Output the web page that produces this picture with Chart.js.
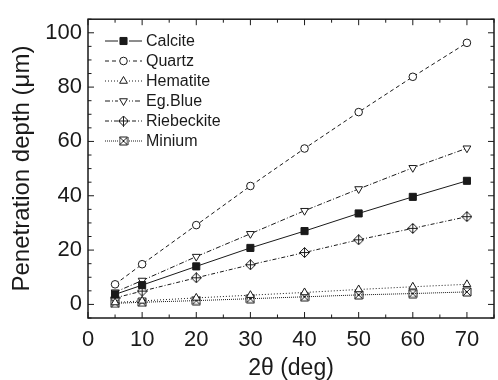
<!DOCTYPE html>
<html>
<head>
<meta charset="utf-8">
<script src="https://cdn.jsdelivr.net/npm/chart.js@4"></script>
<style>
  html, body { margin: 0; padding: 0; background: #fff; overflow: hidden; }
  #wrap { width: 503px; height: 380px; }
</style>
</head>
<body>
<div id="wrap"><canvas id="myChart"></canvas></div>
<script>
const angles = [5, 10, 20, 30, 40, 50, 60, 70];
const calcite = [3.7, 7.1, 14.0, 20.8, 27.0, 33.5, 39.6, 45.5];
const quartz = [7.4, 14.8, 29.2, 43.6, 57.4, 70.8, 83.8, 96.3];
const hematite = [0.7, 1.3, 2.4, 3.4, 4.4, 5.5, 6.5, 7.4];
const egBlue = [4.5, 8.8, 17.6, 26.0, 34.5, 42.5, 50.3, 57.5];
const riebeckite = [2.4, 4.9, 9.8, 14.6, 19.1, 23.8, 28.0, 32.3];
const minium = [0.4, 0.8, 1.4, 2.1, 2.8, 3.5, 4.0, 4.6];

const ink = '#1a1a1a';
const font = 'Liberation Sans, Arial, Helvetica, sans-serif';

// small canvases for the two odd markers
const makeMarker = (size, draw) => {
  const c = document.createElement('canvas');
  c.width = size; c.height = size;
  const g = c.getContext('2d');
  g.strokeStyle = ink;
  g.lineWidth = 1;
  draw(g, size / 2);
  return c;
};
const diamondPlus = makeMarker(11, (g, m) => {
  g.fillStyle = '#fff';
  g.beginPath();
  g.moveTo(m, 0.5); g.lineTo(10.5, m); g.lineTo(m, 10.5); g.lineTo(0.5, m); g.closePath();
  g.fill();
  g.moveTo(m, 0.5); g.lineTo(m, 10.5);
  g.moveTo(0.5, m); g.lineTo(10.5, m);
  g.stroke();
});
const crossBox = makeMarker(10, (g, m) => {
  g.beginPath();
  g.moveTo(1, 1); g.lineTo(9, 9);
  g.moveTo(9, 1); g.lineTo(1, 9);
  g.moveTo(1, 1); g.lineTo(9, 1);
  g.moveTo(1, 9); g.lineTo(9, 9);
  g.moveTo(1, 1); g.lineTo(1, 9);
  g.moveTo(9, 1); g.lineTo(9, 9);
  g.stroke();
});

const series = (label, values, dash, pointStyle, radius, fill, rotation) => ({
  label: label,
  data: values.map((v, i) => ({ x: angles[i], y: v })),
  borderColor: ink,
  borderWidth: 1,
  borderDash: dash,
  pointStyle: pointStyle,
  pointRadius: radius,
  pointRotation: rotation || 0,
  pointBorderColor: ink,
  pointBorderWidth: 1,
  pointBackgroundColor: fill,
  backgroundColor: fill,
  tension: 0,
});

const data = {
  datasets: [
    series('Calcite', calcite, [], 'rect', 5, ink),
    series('Quartz', quartz, [4, 3], 'circle', 3.8, '#fff'),
    series('Hematite', hematite, [1, 2], 'triangle', 4.5, '#fff'),
    series('Eg.Blue', egBlue, [5, 2, 1, 2], 'triangle', 4.5, '#fff', 180),
    series('Riebeckite', riebeckite, [4, 2, 1, 2], diamondPlus, 5, '#fff'),
    series('Minium', minium, [1, 1], crossBox, 5, '#fff'),
  ],
};

// frame with inward ticks on all four sides
const framePlugin = {
  id: 'frame',
  afterDraw(chart) {
    const { ctx, chartArea: a, scales } = chart;
    ctx.save();
    ctx.strokeStyle = ink;
    ctx.lineWidth = 1.5;
    ctx.strokeRect(a.left, a.top, a.right - a.left, a.bottom - a.top);
    ctx.lineWidth = 1;
    ctx.beginPath();
    scales.x.ticks.forEach(t => {
      const px = scales.x.getPixelForValue(t.value);
      const len = t.value % 10 === 0 ? 6 : 3.5;
      ctx.moveTo(px, a.bottom); ctx.lineTo(px, a.bottom - len);
      ctx.moveTo(px, a.top); ctx.lineTo(px, a.top + len);
    });
    scales.y.ticks.forEach(t => {
      const py = scales.y.getPixelForValue(t.value);
      const len = t.value % 20 === 0 ? 6 : 3.5;
      ctx.moveTo(a.left, py); ctx.lineTo(a.left + len, py);
      ctx.moveTo(a.right, py); ctx.lineTo(a.right - len, py);
    });
    ctx.stroke();
    ctx.restore();
  },
};

// legend drawn inside the plot: line - marker - line, then the name
const legendPlugin = {
  id: 'insideLegend',
  afterDraw(chart) {
    const ctx = chart.ctx;
    ctx.save();
    ctx.font = '16px ' + font;
    ctx.textBaseline = 'middle';
    chart.data.datasets.forEach((ds, i) => {
      const y = 41 + i * 20;
      ctx.strokeStyle = ink;
      ctx.lineWidth = 1;
      ctx.setLineDash(ds.borderDash);
      ctx.beginPath();
      ctx.moveTo(105, y); ctx.lineTo(142, y);
      ctx.stroke();
      ctx.setLineDash([]);
      ctx.fillStyle = '#fff';
      ctx.fillRect(118, y - 5, 11, 10);
      ctx.fillStyle = ds.pointBackgroundColor;
      ctx.strokeStyle = ink;
      Chart.helpers.drawPoint(ctx, {
        pointStyle: ds.pointStyle,
        radius: ds.pointRadius,
        rotation: ds.pointRotation,
        borderWidth: 1,
      }, 123.5, y);
      ctx.fillStyle = ink;
      ctx.fillText(ds.label, 146, y + 1);
    });
    ctx.restore();
  },
};

const ctx = document.getElementById('myChart').getContext('2d');
const config = {
  type: 'line',
  data: data,
  options: {
    responsive: true,
    maintainAspectRatio: false,
    animation: false,
    events: [],
    layout: { padding: { top: 13, right: 2, left: 0, bottom: 0 } },
    plugins: {
      legend: { display: false },
      tooltip: { enabled: false },
    },
    scales: {
      x: {
        type: 'linear',
        min: 0,
        max: 75,
        afterFit: s => { s.height = 62; },
        grid: { display: true, drawOnChartArea: false, drawTicks: false },
        border: { display: false },
        ticks: {
          stepSize: 5,
          autoSkip: false,
          maxRotation: 0,
          padding: 9,
          color: ink,
          font: { family: font, size: 22 },
          callback: v => (v % 10 === 0 && v <= 70 ? v : ''),
        },
        title: {
          display: true,
          text: '2θ (deg)',
          color: ink,
          font: { family: font, size: 23 },
          padding: { top: 0, bottom: -2 },
        },
      },
      y: {
        min: -5,
        max: 105,
        afterFit: s => { s.width = 88; },
        grid: { display: true, drawOnChartArea: false, drawTicks: false },
        border: { display: false },
        ticks: {
          stepSize: 5,
          autoSkip: false,
          padding: 6,
          color: ink,
          font: { family: font, size: 22 },
          callback: v => (v % 20 === 0 ? v : ''),
        },
        title: {
          display: true,
          text: 'Penetration depth (μm)',
          color: ink,
          font: { family: font, size: 24 },
          padding: { top: 8, bottom: 4 },
        },
      },
    },
  },
  plugins: [framePlugin, legendPlugin],
};
Chart.defaults.color = ink;
const penChart = new Chart(ctx, config);
</script>
</body>
</html>
